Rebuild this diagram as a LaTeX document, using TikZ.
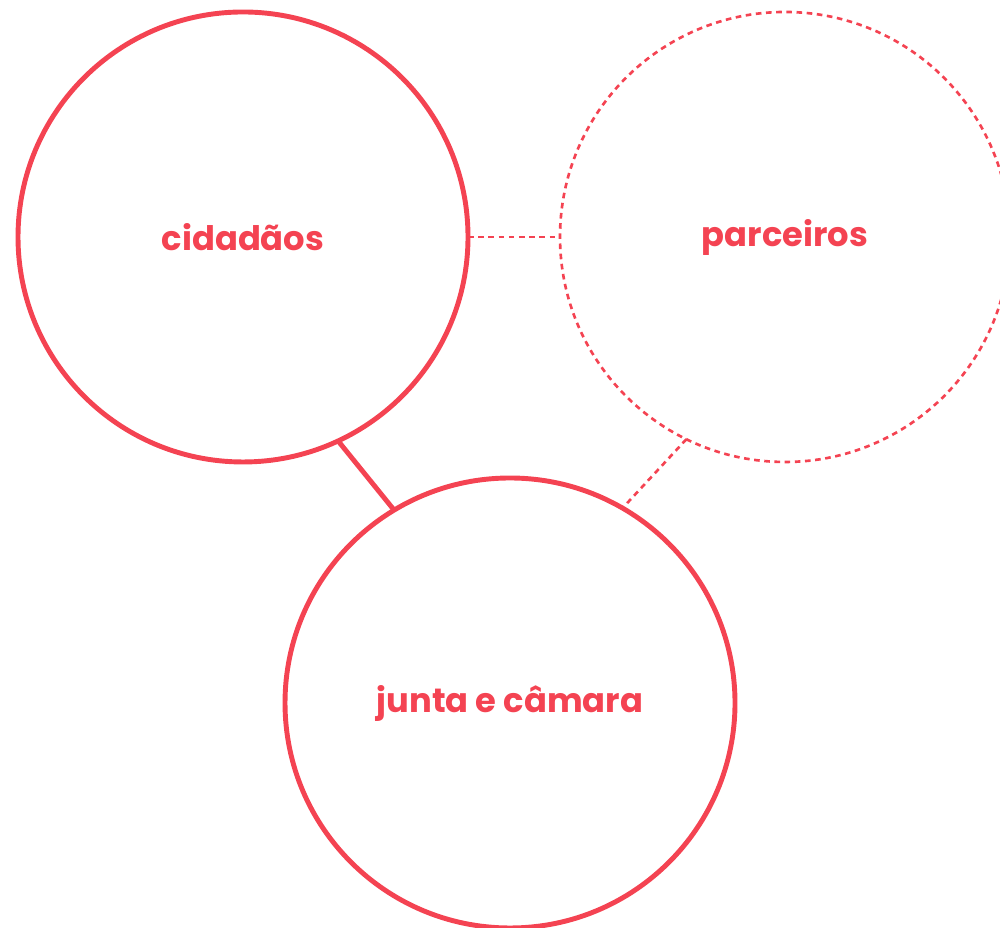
\documentclass[tikz,border=0pt]{standalone}
\usepackage{fontspec}
\setmainfont{Poppins}
\definecolor{rosa}{RGB}{244,67,82}
\tikzset{
  roda/.style={circle,draw=rosa,line width=1.4pt,minimum size=4.5cm,inner sep=0pt,outer sep=0pt,
    text=rosa,font=\fontsize{9.6}{12}\selectfont\bfseries},
  rodatr/.style={roda,line width=0.75pt,dash pattern=on 1.6pt off 1.3pt},
  liga/.style={draw=rosa,line width=1.4pt},
  ligatr/.style={draw=rosa,line width=0.75pt,dash pattern=on 1.6pt off 1.3pt}
}
\begin{document}
\begin{tikzpicture}

\useasboundingbox (0,0) rectangle (10,9.28);
\clip (0,0) rectangle (10,9.28);

\node[roda] (cid) at (2.43,6.91) {cidadãos};
\node[rodatr] (par) at (7.85,6.91) {parceiros};
\node[roda] (jun) at (5.10,2.25) {junta e câmara};

\draw[liga] (cid.-65) -- (jun.121);
\draw[ligatr] (cid.east) -- (par.west);
\draw[ligatr] (par.244) -- (jun.60);

\end{tikzpicture}
\end{document}
